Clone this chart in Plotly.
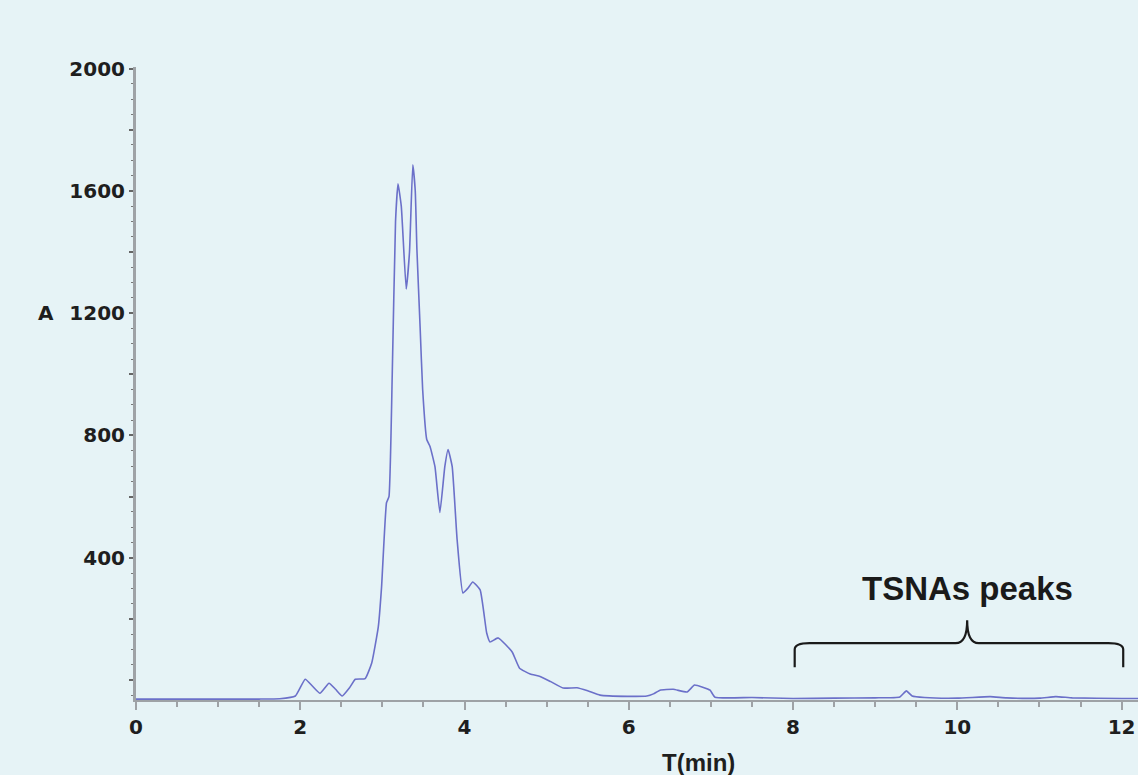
import plotly.graph_objects as go

# Chromatogram trace (time in min, absorbance A)
time_min = [0, 0.5, 1.0, 1.5, 1.75, 1.94, 2.06, 2.15, 2.24, 2.35, 2.43, 2.51, 2.6, 2.67,
            2.79, 2.87, 2.95, 2.99, 3.05, 3.08, 3.12, 3.16, 3.19, 3.23, 3.29, 3.33, 3.37,
            3.40, 3.42, 3.46, 3.49, 3.54, 3.58, 3.64, 3.70, 3.76, 3.80, 3.85, 3.91, 3.98,
            4.04, 4.10, 4.19, 4.27, 4.31, 4.41, 4.58, 4.67, 4.80, 4.92, 5.05, 5.20, 5.37,
            5.50, 5.65, 5.98, 6.22, 6.30, 6.38, 6.54, 6.71, 6.80, 6.90, 6.99, 7.05, 7.5,
            8.0, 8.5, 9.0, 9.3, 9.38, 9.45, 9.6, 10.0, 10.4, 10.6, 11.0, 11.2, 11.4, 12.0, 12.2]
absorbance = [-62, -62, -62, -62, -61, -52, 3, -20, -43, -10, -30, -52, -25, 3,
              5, 56, 174, 305, 580, 600, 1000, 1500, 1623, 1550, 1279, 1400, 1685,
              1600, 1410, 1150, 951, 787, 764, 698, 548, 698, 754, 698, 459, 285,
              300, 321, 295, 154, 125, 138, 92, 39, 20, 12, -5, -26, -25,
              -35, -49, -53, -52, -45, -33, -30, -39, -16, -23, -33, -56, -57,
              -60, -59, -58, -55, -35, -52, -57, -59, -54, -58, -59, -54, -58, -60, -60]

x_tickvals = [0, 2, 4, 6, 8, 10, 12]
y_tickvals = [0, 200, 400, 600, 800, 1000, 1200, 1400, 1600, 1800, 2000]
y_ticktext = ["", "", "400", "", "800", "", "1200", "", "1600", "", "2000"]

bg = "#e6f3f6"
axis_col = "#9ea2a6"
tick_font = dict(family="DejaVu Sans", size=20, color="#1e1e1e", weight="bold")

fig = go.Figure()
fig.add_trace(go.Scatter(x=time_min, y=absorbance, mode="lines",
                         line=dict(color="#6b70c9", width=1.6, shape="spline", smoothing=0.4),
                         showlegend=False, hoverinfo="skip"))

fig.update_layout(
    width=1138, height=775,
    margin=dict(l=136, r=0, t=67, b=75),
    paper_bgcolor=bg, plot_bgcolor=bg,
    xaxis=dict(range=[0, 12.2], tickvals=x_tickvals, ticks="outside", ticklen=8,
               tickwidth=1.5, tickcolor=axis_col, showline=True, linecolor=axis_col,
               linewidth=2, showgrid=False, zeroline=False, tickfont=tick_font,
               minor=dict(dtick=0.5, ticks="outside", ticklen=5, tickcolor=axis_col,
                          tickwidth=1.5, showgrid=False)),
    yaxis=dict(range=[-65, 2005], tickvals=y_tickvals, ticktext=y_ticktext,
               ticks="outside", ticklen=4, tickwidth=1.5, tickcolor="#666",
               showline=True, linecolor=axis_col, linewidth=3, showgrid=False,
               zeroline=False, tickfont=tick_font,
               minor=dict(dtick=50, ticks="outside", ticklen=2, tickcolor="#777",
                          tickwidth=1, showgrid=False)),
)

fig.add_annotation(text="A", xref="paper", x=0, xanchor="right", xshift=-80,
                   yref="y", y=1200, yanchor="middle", showarrow=False,
                   font=dict(family="DejaVu Sans", size=20, color="#1e1e1e", weight="bold"))
fig.add_annotation(text="T(min)", xref="x", x=6.85, yref="paper", y=-0.098,
                   yanchor="middle", showarrow=False,
                   font=dict(family="Liberation Sans", size=24, color="#1e1e1e", weight="bold"))
fig.add_annotation(text="TSNAs peaks", xref="x", x=10.12, yref="y", y=301,
                   yanchor="middle", showarrow=False,
                   font=dict(family="Liberation Sans", size=33, color="#1a1a1a", weight="bold"))

# curly bracket over the TSNAs region
fig.add_shape(type="path", xref="x", yref="y",
              path="M 8.02,42 L 8.02,100 Q 8.02,121 8.2,121 L 9.98,121 "
                   "Q 10.12,121 10.12,196 Q 10.12,121 10.26,121 L 11.84,121 "
                   "Q 12.02,121 12.02,100 L 12.02,42",
              line=dict(color="#1a1a1a", width=2.2))

fig.write_html("out.html", config={"displayModeBar": False},
               post_script="document.body.style.margin='0';document.body.style.overflow='hidden';")
